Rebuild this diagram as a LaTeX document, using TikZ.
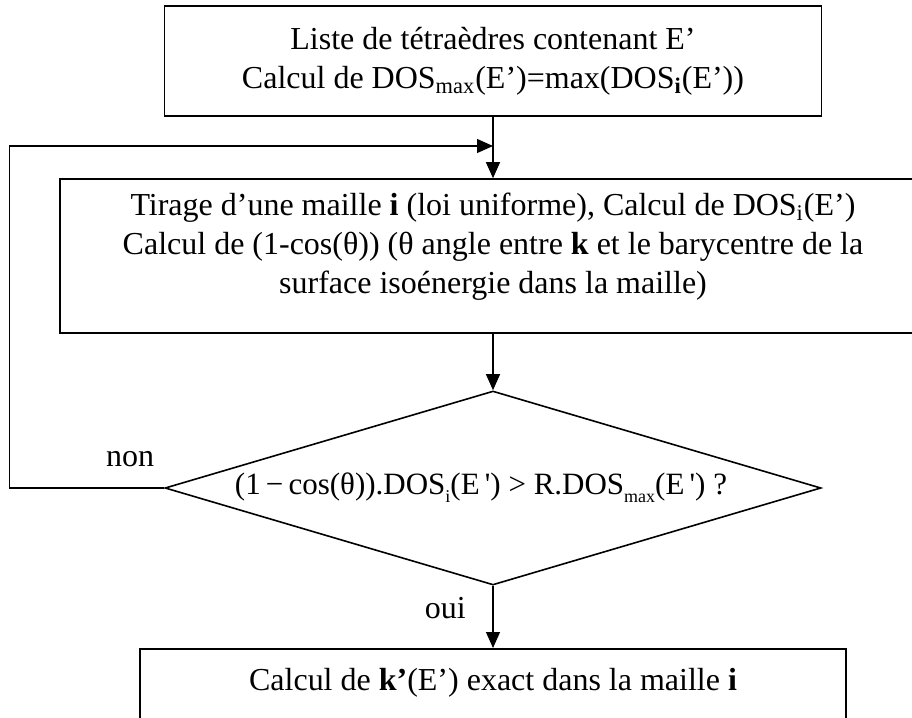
\documentclass[tikz,border=0pt]{standalone}
\usepackage{fontspec}
\setmainfont{Liberation Serif}
\usepackage{amsmath}
\usetikzlibrary{arrows.meta,positioning,shapes.geometric}
\newcommand{\lowsub}[1]{\raisebox{-0.55ex}{\fontsize{9}{9}\selectfont #1}}

\begin{document}
\begin{tikzpicture}[x=0.5pt,y=-0.5pt,every node/.style={font=\fontsize{16}{19.5}\selectfont},
  box/.style={draw,line width=0.8pt,align=center,inner sep=0pt},
  flow/.style={-{Triangle[length=8pt,width=7pt]},line width=0.6pt}]
\useasboundingbox (0,0) rectangle (912,718);
\node[box,minimum width=328.5pt,minimum height=55pt] (liste) at (493,61)
  {Liste de tétraèdres contenant E’\\Calcul de DOS\textsubscript{max}(E’)=max(DOS\textsubscript{\textbf{i}}(E’))};
\node[box,minimum width=433pt,minimum height=77pt,text depth=13pt] (tirage) at (493,256)
  {Tirage d’une maille \textbf{i} (loi uniforme), Calcul de DOS\textsubscript{i}(E’)\\
   Calcul de (1-cos(θ)) (θ angle entre \textbf{k} et le barycentre de la\\surface isoénergie dans la maille)};
\node[box,shape=diamond,aspect=3.4,minimum width=328pt,minimum height=97pt,font=\fontsize{15.5}{18}\selectfont] (test) at (493,488)
  {(1\,−\,cos(θ)).DOS\lowsub{i}(E\,\textquotesingle) > R.DOS\lowsub{max}(E\,\textquotesingle) ?\hspace{12pt}};
\node[box,minimum width=353pt,minimum height=55pt,text depth=24pt,anchor=north] (exact) at (493,648)
  {Calcul de \textbf{k’}(E’) exact dans la maille \textbf{i}};
\coordinate (merge) at (493,146);
\draw[flow] (liste) -- (tirage);
\draw[flow] (tirage) -- (test);
\draw[flow] (test) -- node[left=10pt,pos=0.35]{oui} (exact);
% retour vers le tirage si le test echoue
\draw[flow] (test.west) -- node[above=7pt,pos=0.22]{non} ++(-155,0) |- (merge);
\end{tikzpicture}
\end{document}
